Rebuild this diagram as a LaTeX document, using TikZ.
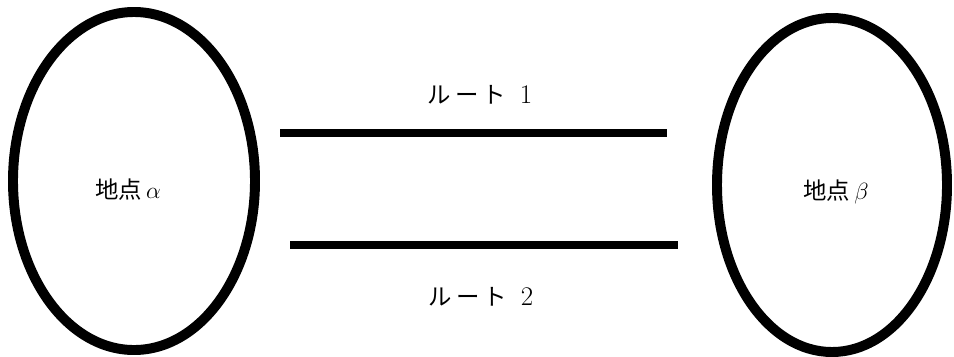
\RequirePackage{fix-cm}
\documentclass[tikz,border=0pt]{standalone}
\usepackage{fontspec}
\newfontfamily\cjk{Noto Sans CJK JP}
\usepackage{tikz}
\usetikzlibrary{shapes.geometric}

\begin{document}
\begin{tikzpicture}[x=0.03cm,y=-0.03cm,
  place/.style={draw, ellipse, line width=8.5pt, inner sep=0pt},
  route/.style={line width=6.8pt},
  txt/.style={font=\fontsize{20}{24}\selectfont}]
  \useasboundingbox (0,0) rectangle (954,356);

  % the two places
  \node[place, minimum width=7.26cm, minimum height=10.14cm] (alpha) at (134,181) {};
  \node[place, minimum width=6.9cm, minimum height=10.02cm] (beta) at (832,185) {};
  \node[txt] (alphatxt) at (128,190) {{\cjk 地点}\,$\alpha$};
  \node[txt] (betatxt) at (836,192) {{\cjk 地点}\,$\beta$};

  % routes
  \coordinate (r1a) at (280,133);
  \coordinate (r1b) at (667,133);
  \coordinate (r2a) at (290,245);
  \coordinate (r2b) at (678,245);
  \draw[route] (r1a) -- (r1b);
  \draw[route] (r2a) -- (r2b);
  \node[txt] (r1txt) at (480,95) {{\cjk ル\,ー\,ト}\ \ \fontsize{23}{26}\selectfont 1};
  \node[txt] (r2txt) at (481,297) {{\cjk ル\,ー\,ト}\ \ \fontsize{23}{26}\selectfont 2};
\end{tikzpicture}
\end{document}
